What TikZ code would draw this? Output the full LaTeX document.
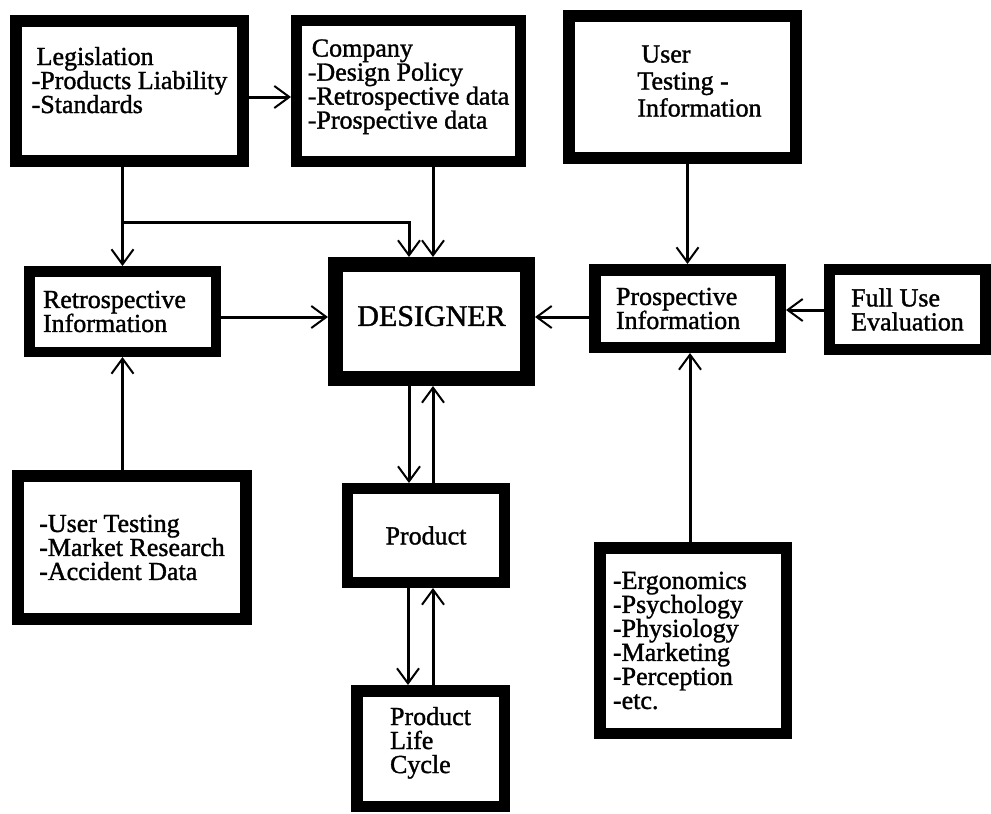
\documentclass[tikz,border=0pt]{standalone}
\usepackage{fontspec}
\setmainfont{Liberation Serif}[FakeBold=1.3]
\usetikzlibrary{arrows.meta,calc}
\begin{document}
\begin{tikzpicture}[x=1pt,y=-1pt,
  box/.style={draw=black, fill=white, rectangle, line width=11.5pt,
    align=left, inner sep=0pt, font=\fontsize{26}{24}\selectfont},
  bigbox/.style={box, line width=15pt, font=\fontsize{30}{30}\selectfont},
  arr/.style={draw=black, line width=3pt,
    -{Straight Barb[length=15pt,width=22pt,line width=2pt]}}]
\useasboundingbox (0,0) rectangle (991,814);

% boxes
\node[box, minimum width=227pt, minimum height=140pt, text depth=22pt] (leg) at (129.5,91)
  {\hspace*{5pt}Legislation\\-Products Liability\\-Standards};
\node[box, minimum width=224pt, minimum height=141pt, line width=11pt, text depth=14pt] (comp) at (408.5,91)
  {\hspace*{4pt}Company\\-Design Policy\\-Retrospective data\\-Prospective data};
\node[box, minimum width=227pt, minimum height=142pt, line width=12pt, text depth=12pt,
  font=\fontsize{26}{27}\selectfont] (uti) at (682.5,87)
  {\hspace*{38pt}User\\\hspace*{34pt}Testing -\\\hspace*{34pt}Information};
\node[box, minimum width=186.5pt, minimum height=80.5pt, line width=10.5pt, text width=159pt] (retro) at (122.5,311.5)
  {Retrospective\\Information};
\node[bigbox, minimum width=192pt, minimum height=114pt, text depth=11pt] (des) at (431.5,321.5)
  {DESIGNER};
\node[box, minimum width=185.5pt, minimum height=77.5pt, text width=143pt] (pro) at (687.5,308.5)
  {Prospective\\Information};
\node[box, minimum width=156pt, minimum height=80pt, line width=11pt] (fue) at (907.5,309.5)
  {Full Use\\Evaluation};
\node[box, minimum width=228pt, minimum height=143pt, line width=12pt] (uts) at (132,547.5)
  {-User Testing\\-Market Research\\-Accident Data};
\node[box, minimum width=157pt, minimum height=94pt, line width=11pt] (prod) at (426,535.5)
  {Product};
\node[box, minimum width=147.5pt, minimum height=115.5pt, text depth=17pt] (plc) at (430.5,748.5)
  {Product\\Life\\Cycle};
\node[box, minimum width=186.5pt, minimum height=185.5pt, text width=160pt] (erg) at (693,640.5)
  {-Ergonomics\\-Psychology\\-Physiology\\-Marketing\\-Perception\\-etc.};

% connector end points
\coordinate (lc)  at ([yshift=-6pt]leg.east);
\coordinate (split) at (122.5,222);
\coordinate (dl)  at ([xshift=-22.5pt]des.north);
\coordinate (dr)  at ([xshift=1.5pt]des.north);
\coordinate (rc)  at ([yshift=-5.5pt]retro.east);
\coordinate (pc)  at ([yshift=-8.5pt]pro.west);
\coordinate (fc)  at ([yshift=-0.5pt]fue.west);
\coordinate (pb)  at ([xshift=2.5pt]pro.south);
\coordinate (ddn) at ([xshift=-22.5pt]des.south);
\coordinate (dup) at ([xshift=1.5pt]des.south);
\coordinate (pdn) at ([xshift=-18pt]prod.south);
\coordinate (pup) at ([xshift=7pt]prod.south);

% connectors
\draw[arr] (lc) -- (lc -| comp.west);
\draw[arr] (retro.north |- leg.south) -- (retro.north);
\draw[arr] (split) -| (dl);
\draw[arr] (dr |- comp.south) -- (dr);
\draw[arr] (rc) -- (rc -| des.west);
\draw[arr] (retro.south |- uts.north) -- (retro.south);
\draw[arr] (pro.north |- uti.south) -- (pro.north);
\draw[arr] (pc) -- (pc -| des.east);
\draw[arr] (fc) -- (fc -| pro.east);
\draw[arr] (pb |- erg.north) -- (pb);
\draw[arr] (ddn) -- (ddn |- prod.north);
\draw[arr] (dup |- prod.north) -- (dup);
\draw[arr] (pdn) -- (pdn |- plc.north);
\draw[arr] (pup |- plc.north) -- (pup);
\end{tikzpicture}
\end{document}
